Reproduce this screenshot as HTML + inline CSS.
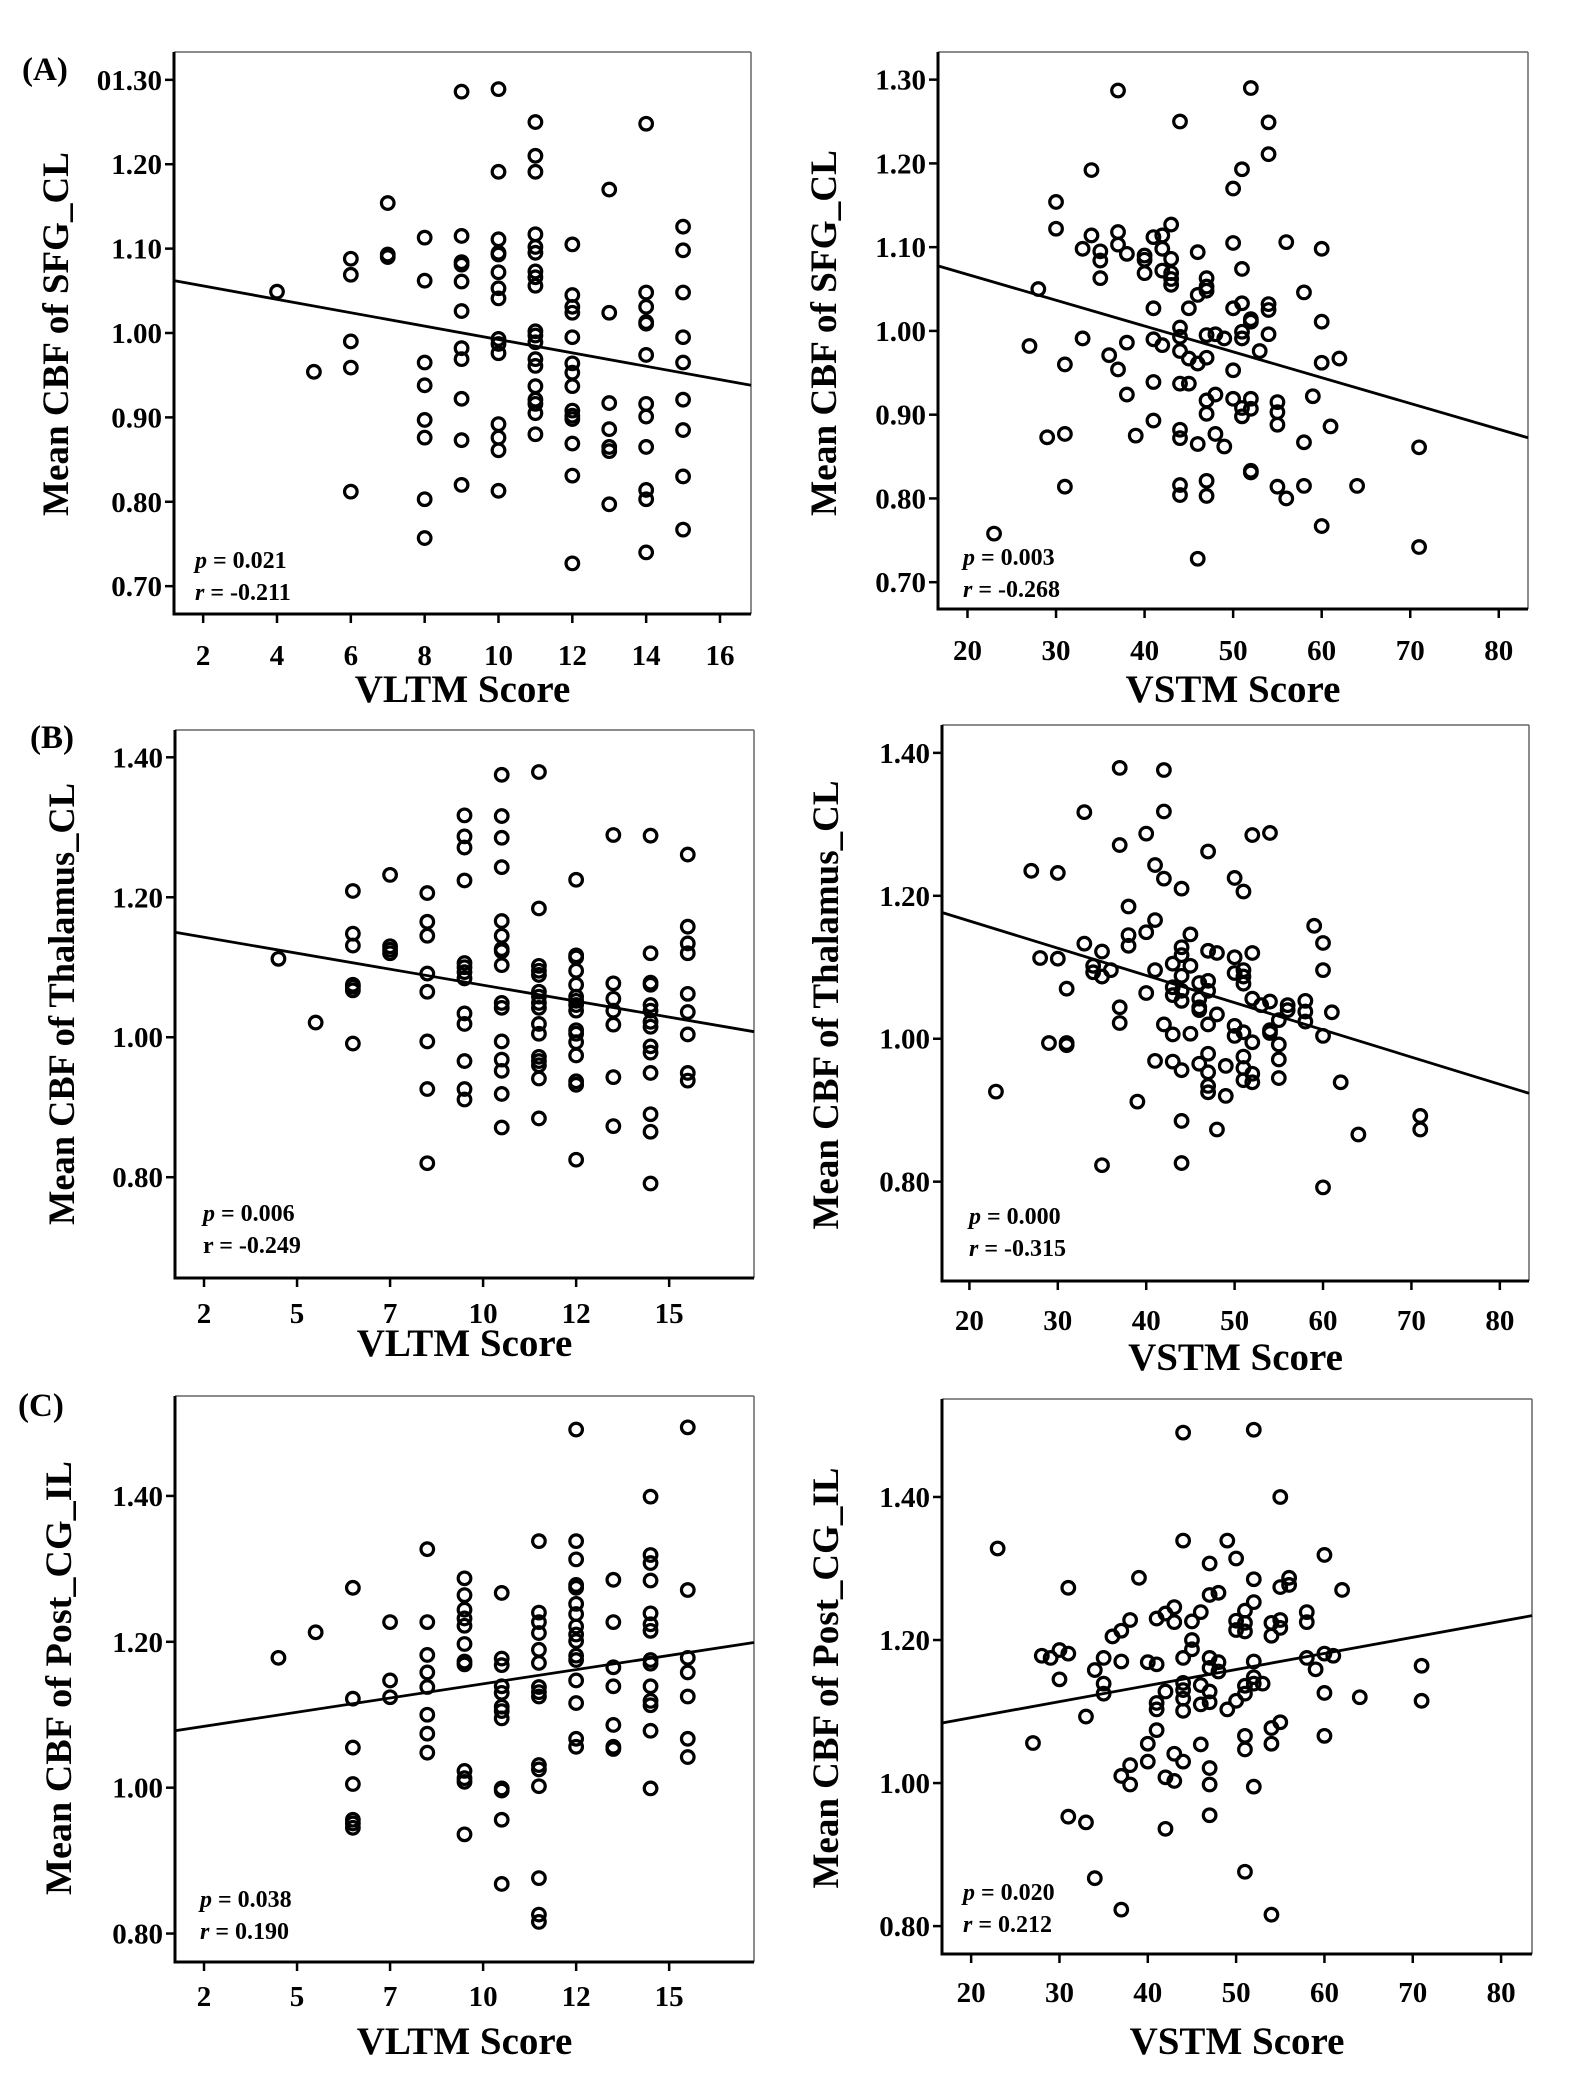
<!DOCTYPE html>
<html><head><meta charset="utf-8"><style>
html,body{margin:0;padding:0;background:#fff;}
svg{display:block;}
text{font-family:"Liberation Serif",serif;font-weight:bold;fill:#000;}
</style></head><body>
<svg id="fig" width="1575" height="2082" viewBox="0 0 1575 2082" xmlns="http://www.w3.org/2000/svg">
<rect x="0" y="0" width="1575" height="2082" fill="#fff"/>
<text x="22" y="80" font-size="33">(A)</text>
<text x="30" y="748" font-size="33">(B)</text>
<text x="18" y="1416" font-size="33">(C)</text>
</svg>
<script>
// ---- Data ----
const vltmTicksA = [2,4,6,8,10,12,14,16];
const vltmTickLabelsA = ["2","4","6","8","10","12","14","16"];
const vltmTicksBC = [2.5,5,7.5,10,12.5,15];
const vltmTickLabelsBC = ["2","5","7","10","12","15"];
const vstmTicks = [20,30,40,50,60,70,80];
const vstmTickLabels = ["20","30","40","50","60","70","80"];
const yTicksA = [0.7,0.8,0.9,1.0,1.1,1.2,1.3];
const yTickLabelsA = ["0.70","0.80","0.90","1.00","1.10","1.20","01.30"];
const yTickLabelsA2 = ["0.70","0.80","0.90","1.00","1.10","1.20","1.30"];
const yTicksBC = [0.8,1.0,1.2,1.4];
const yTickLabelsBC = ["0.80","1.00","1.20","1.40"];

const sfgVltmX = [4,5,6,7,8,9,10,11,12,13,14,15];
const sfgVltmY = [
 [1.049],[0.954],
 [1.088,1.069,0.990,0.959,0.812],
 [1.154,1.093,1.090],
 [1.113,1.062,0.965,0.938,0.897,0.876,0.803,0.757],
 [1.286,1.115,1.084,1.081,1.061,1.026,0.982,0.969,0.922,0.873,0.820],
 [1.289,1.191,1.111,1.095,1.093,1.072,1.053,1.041,0.993,0.987,0.976,0.892,0.876,0.861,0.813],
 [1.250,1.210,1.191,1.117,1.102,1.095,1.073,1.066,1.056,1.002,0.997,0.989,0.969,0.961,0.937,0.921,0.916,0.905,0.880],
 [1.105,1.045,1.031,1.024,0.995,0.964,0.953,0.937,0.908,0.902,0.898,0.869,0.831,0.727],
 [1.170,1.024,0.917,0.886,0.865,0.860,0.797],
 [1.248,1.048,1.031,1.013,1.011,0.974,0.916,0.901,0.865,0.814,0.803,0.740],
 [1.126,1.098,1.048,0.995,0.965,0.921,0.885,0.830,0.767]
];
const sfgVltmFit = [1.0716,-0.00793];

const sfgVstmPoints = [[23,0.758],[27,0.982],[28,1.050],[29,0.873],[30,1.154],[30,1.122],[31,0.960],[31,0.877],[31,0.814],[33,1.098],[33,0.991],[34,1.192],[34,1.114],[35,1.095],[35,1.084],[35,1.063],[36,0.971],[37,1.287],[37,1.118],[37,1.103],[37,0.954],[38,1.092],[38,0.986],[38,0.924],[39,0.875],[40,1.090],[40,1.085],[40,1.069],[41,1.112],[41,1.027],[41,0.990],[41,0.939],[41,0.893],[42,1.114],[42,1.098],[42,1.072],[42,0.983],[43,1.127],[43,1.086],[43,1.069],[43,1.062],[43,1.055],[44,1.250],[44,1.004],[44,0.993],[44,0.976],[44,0.937],[44,0.882],[44,0.872],[44,0.816],[44,0.804],[45,1.027],[45,0.967],[45,0.937],[46,1.094],[46,1.043],[46,0.961],[46,0.865],[46,0.728],[47,1.063],[47,1.053],[47,1.048],[47,0.995],[47,0.968],[47,0.917],[47,0.901],[47,0.821],[47,0.803],[48,0.996],[48,0.924],[48,0.877],[49,0.991],[49,0.862],[50,1.170],[50,1.105],[50,1.027],[50,0.953],[50,0.919],[51,1.193],[51,1.074],[51,1.033],[51,0.999],[51,0.991],[51,0.908],[51,0.898],[52,1.290],[52,1.014],[52,1.011],[52,0.919],[52,0.907],[52,0.833],[52,0.831],[53,0.976],[54,1.249],[54,1.211],[54,1.032],[54,1.025],[54,0.996],[55,0.915],[55,0.903],[55,0.888],[55,0.814],[56,1.106],[56,0.800],[58,1.046],[58,0.867],[58,0.815],[59,0.922],[60,1.098],[60,1.011],[60,0.962],[60,0.767],[61,0.886],[62,0.967],[64,0.815],[71,0.861],[71,0.742]];
const sfgVstmFit = [1.129,-0.00308];

const thalVltmX = [4.5,5.5,6.5,7.5,8.5,9.5,10.5,11.5,12.5,13.5,14.5,15.5];
const thalVltmY = [
 [1.112],[1.021],
 [1.209,1.148,1.131,1.075,1.072,1.067,0.991],
 [1.232,1.130,1.125,1.120],
 [1.206,1.165,1.145,1.091,1.065,0.994,0.926,0.820],
 [1.317,1.287,1.271,1.224,1.106,1.100,1.093,1.084,1.034,1.019,0.966,0.926,0.911],
 [1.375,1.316,1.285,1.243,1.166,1.145,1.126,1.123,1.103,1.049,1.042,0.994,0.968,0.952,0.919,0.871],
 [1.379,1.184,1.102,1.095,1.089,1.065,1.058,1.049,1.042,1.019,1.005,0.972,0.966,0.960,0.941,0.884],
 [1.225,1.117,1.114,1.095,1.075,1.058,1.052,1.046,1.038,1.010,1.005,0.993,0.974,0.937,0.932,0.825],
 [1.289,1.077,1.055,1.038,1.018,0.943,0.873],
 [1.288,1.120,1.078,1.075,1.046,1.038,1.022,1.015,0.987,0.978,0.949,0.890,0.865,0.791],
 [1.261,1.158,1.134,1.120,1.062,1.036,1.004,0.949,0.938]
];
const thalVltmFit = [1.1657,-0.00913];

const thalVstmPoints = [[23,0.926],[27,1.235],[28,1.113],[29,0.994],[30,1.232],[30,1.112],[31,1.070],[31,0.994],[31,0.991],[33,1.317],[33,1.133],[34,1.102],[34,1.093],[35,1.122],[35,1.087],[35,0.823],[36,1.096],[37,1.379],[37,1.271],[37,1.044],[37,1.022],[38,1.185],[38,1.145],[38,1.130],[39,0.912],[40,1.287],[40,1.149],[40,1.064],[41,1.243],[41,1.166],[41,1.096],[41,0.969],[42,1.376],[42,1.318],[42,1.224],[42,1.020],[43,1.105],[43,1.072],[43,1.061],[43,1.006],[43,0.968],[44,1.210],[44,1.128],[44,1.117],[44,1.088],[44,1.067],[44,1.053],[44,0.956],[44,0.885],[44,0.826],[45,1.146],[45,1.102],[45,1.007],[46,1.078],[46,1.056],[46,1.044],[46,1.040],[46,0.965],[47,1.262],[47,1.123],[47,1.081],[47,1.067],[47,1.020],[47,0.979],[47,0.953],[47,0.934],[47,0.925],[48,1.120],[48,1.034],[48,0.873],[49,0.962],[49,0.920],[50,1.225],[50,1.114],[50,1.092],[50,1.018],[50,1.004],[51,1.206],[51,1.096],[51,1.087],[51,1.077],[51,1.009],[51,0.975],[51,0.959],[51,0.942],[52,1.285],[52,1.120],[52,1.056],[52,0.995],[52,0.951],[52,0.939],[53,1.047],[54,1.288],[54,1.052],[54,1.012],[54,1.008],[55,1.026],[55,0.992],[55,0.971],[55,0.945],[56,1.047],[56,1.040],[58,1.053],[58,1.038],[58,1.024],[59,1.158],[60,1.134],[60,1.096],[60,1.004],[60,0.792],[61,1.037],[62,0.939],[64,0.866],[71,0.892],[71,0.873]];
const thalVstmFit = [1.241,-0.00381];

const pcgVltmX = [4.5,5.5,6.5,7.5,8.5,9.5,10.5,11.5,12.5,13.5,14.5,15.5];
const pcgVltmY = [
 [1.178],[1.213],
 [1.274,1.122,1.055,1.005,0.956,0.951,0.945],
 [1.227,1.147,1.124],
 [1.327,1.227,1.182,1.158,1.138,1.100,1.074,1.048],
 [1.287,1.264,1.244,1.232,1.222,1.197,1.173,1.169,1.023,1.013,1.008,0.936],
 [1.267,1.177,1.168,1.139,1.130,1.111,1.105,1.095,0.999,0.996,0.956,0.868],
 [1.338,1.240,1.227,1.212,1.189,1.171,1.138,1.131,1.125,1.031,1.025,1.002,0.876,0.826,0.816],
 [1.491,1.338,1.313,1.278,1.274,1.252,1.238,1.221,1.210,1.201,1.181,1.175,1.147,1.116,1.067,1.056],
 [1.285,1.227,1.165,1.139,1.086,1.056,1.053],
 [1.399,1.319,1.308,1.284,1.239,1.224,1.215,1.175,1.170,1.139,1.119,1.113,1.078,0.999],
 [1.494,1.271,1.178,1.158,1.125,1.067,1.042]
];
const pcgVltmFit = [1.0646,0.00778];

const pcgVstmPoints = [[23,1.328],[27,1.056],[28,1.178],[29,1.175],[30,1.186],[30,1.145],[31,1.273],[31,1.181],[31,0.953],[33,1.093],[33,0.945],[34,1.158],[34,0.867],[35,1.175],[35,1.139],[35,1.125],[36,1.205],[37,1.213],[37,1.170],[37,1.010],[37,0.823],[38,1.228],[38,1.025],[38,0.998],[39,1.287],[40,1.169],[40,1.055],[40,1.030],[41,1.230],[41,1.166],[41,1.112],[41,1.103],[41,1.074],[42,1.237],[42,1.128],[42,1.008],[42,0.936],[43,1.246],[43,1.225],[43,1.041],[43,1.003],[44,1.490],[44,1.339],[44,1.175],[44,1.140],[44,1.130],[44,1.118],[44,1.101],[44,1.030],[45,1.200],[45,1.187],[45,1.226],[46,1.239],[46,1.137],[46,1.110],[46,1.054],[47,1.307],[47,1.263],[47,1.175],[47,1.161],[47,1.128],[47,1.113],[47,1.021],[47,0.998],[47,0.955],[48,1.266],[48,1.169],[48,1.156],[49,1.339],[49,1.103],[50,1.314],[50,1.227],[50,1.214],[50,1.115],[51,1.241],[51,1.224],[51,1.212],[51,1.136],[51,1.125],[51,1.066],[51,1.047],[51,0.876],[52,1.494],[52,1.285],[52,1.253],[52,1.170],[52,1.148],[52,1.139],[52,0.995],[53,1.139],[54,1.224],[54,1.206],[54,1.077],[54,1.055],[54,0.816],[55,1.400],[55,1.274],[55,1.228],[55,1.217],[55,1.085],[56,1.287],[56,1.277],[58,1.239],[58,1.225],[58,1.175],[59,1.159],[60,1.319],[60,1.181],[60,1.126],[60,1.066],[61,1.178],[62,1.270],[64,1.120],[71,1.164],[71,1.115]];
const pcgVstmFit = [1.0465,0.002246];

// ---- Drawing ----
const NS = "http://www.w3.org/2000/svg";
const svg = document.getElementById('fig');
function mk(tag, attrs, parent){
  const e = document.createElementNS(NS, tag);
  for (const k in attrs) e.setAttribute(k, attrs[k]);
  (parent||svg).appendChild(e);
  return e;
}
function expand(xs, ys){
  const out = [];
  xs.forEach((x,i)=>ys[i].forEach(y=>out.push([x,y])));
  return out;
}
function panel(c){
  const g = mk('g', {});
  
  
  const sx = v => c.L + (v - c.x0) / (c.x1 - c.x0) * (c.R - c.L);
  const sy = v => c.B - (v - c.y0) / (c.y1 - c.y0) * (c.B - c.T);
  const top = mk('line', {x1:c.L, y1:c.T, x2:c.R, y2:c.T, stroke:'#666', 'stroke-width':1.5}, g);
  
  
  const right = mk('line', {x1:c.R, y1:c.T, x2:c.R, y2:c.B, stroke:'#666', 'stroke-width':1.5}, g);
  
  
  const ya = mk('line', {x1:c.L, y1:c.T, x2:c.L, y2:c.B+1.5, stroke:'#000', 'stroke-width':3}, g);
  
  
  const xa = mk('line', {x1:c.L-1.5, y1:c.B, x2:c.R, y2:c.B, stroke:'#000', 'stroke-width':3}, g);
  
  
  c.yt.forEach((v,i)=>{
    const y = sy(v);
    const t = mk('line', {x1:c.L-9, y1:y, x2:c.L, y2:y, stroke:'#000', 'stroke-width':2.5}, g);
    
    
    const l = mk('text', {x:c.L-12, y:y+10, 'text-anchor':'end', 'font-size':29}, g);
    
    
    l.textContent = c.ytl[i];
  });
  c.xt.forEach((v,i)=>{
    const x = sx(v);
    const t = mk('line', {x1:x, y1:c.B, x2:x, y2:c.B+9, stroke:'#000', 'stroke-width':2.5}, g);
    
    
    const l = mk('text', {x:x, y:c.xlb, 'text-anchor':'middle', 'font-size':29}, g);
    
    
    l.textContent = c.xtl[i];
  });
  const fit = mk('line', {x1:c.L, y1:sy(c.fit[0]+c.fit[1]*c.x0), x2:c.R, y2:sy(c.fit[0]+c.fit[1]*c.x1), stroke:'#000', 'stroke-width':2.8}, g);
  
  
  c.pts.forEach(p=>{
    const ci = mk('circle', {cx:sx(p[0]), cy:sy(p[1]), r:6.3, fill:'none', stroke:'#000', 'stroke-width':3.2}, g);
    
    
  });
  const xt = mk('text', {x:(c.L+c.R)/2, y:c.xtb, 'text-anchor':'middle', 'font-size':39}, g);
  
  
  xt.textContent = c.xtitle;
  const yt = mk('text', {x:0, y:0, 'text-anchor':'middle', 'font-size':37, transform:'translate('+c.ytx+','+c.yty+') rotate(-90)', textLength:c.ytw, lengthAdjust:'spacingAndGlyphs'}, g);
  
  
  yt.textContent = c.ytitle;
  const pa = mk('text', {x:c.ax, y:c.ay, 'font-size':24}, g);
  
  
  const pi = mk('tspan', {'font-style':'italic'}, pa);
  pi.textContent = 'p';
  const pr = mk('tspan', {}, pa);
  pr.textContent = ' = ' + c.pv;
  const ra = mk('text', {x:c.ax, y:c.ay+32, 'font-size':24}, g);
  
  
  const ri = mk('tspan', {'font-style':c.rItalic?'italic':'normal'}, ra);
  ri.textContent = 'r';
  const rr = mk('tspan', {}, ra);
  rr.textContent = ' = ' + c.rv;
}

panel({name:'panel-a-vltm', L:174,R:751,T:52,B:614, x0:1.21,x1:16.84, y0:0.667,y1:1.333,
  xt:vltmTicksA, xtl:vltmTickLabelsA, yt:yTicksA, ytl:yTickLabelsA, xlb:665, xtb:702,
  xtitle:'VLTM Score', ytitle:'Mean CBF of SFG_CL', ytx:68, yty:334, ytw:364,
  pts:expand(sfgVltmX, sfgVltmY), fit:sfgVltmFit, ax:195, ay:568, pv:'0.021', rv:'-0.211', rItalic:true});
panel({name:'panel-a-vstm', L:938,R:1528,T:52,B:609, x0:16.67,x1:83.3, y0:0.668,y1:1.333,
  xt:vstmTicks, xtl:vstmTickLabels, yt:yTicksA, ytl:yTickLabelsA2, xlb:660, xtb:702,
  xtitle:'VSTM Score', ytitle:'Mean CBF of SFG_CL', ytx:836, yty:333, ytw:366,
  pts:sfgVstmPoints, fit:sfgVstmFit, ax:963, ay:565, pv:'0.003', rv:'-0.268', rItalic:true});
panel({name:'panel-b-vltm', L:175,R:754,T:730,B:1278, x0:1.72,x1:17.28, y0:0.656,y1:1.439,
  xt:vltmTicksBC, xtl:vltmTickLabelsBC, yt:yTicksBC, ytl:yTickLabelsBC, xlb:1323, xtb:1356,
  xtitle:'VLTM Score', ytitle:'Mean CBF of Thalamus_CL', ytx:74, yty:1004, ytw:442,
  pts:expand(thalVltmX, thalVltmY), fit:thalVltmFit, ax:203, ay:1221, pv:'0.006', rv:'-0.249', rItalic:false});
panel({name:'panel-b-vstm', L:942,R:1529,T:725,B:1281, x0:16.9,x1:83.3, y0:0.661,y1:1.439,
  xt:vstmTicks, xtl:vstmTickLabels, yt:yTicksBC, ytl:yTickLabelsBC, xlb:1330, xtb:1370,
  xtitle:'VSTM Score', ytitle:'Mean CBF of Thalamus_CL', ytx:838, yty:1005, ytw:449,
  pts:thalVstmPoints, fit:thalVstmFit, ax:969, ay:1224, pv:'0.000', rv:'-0.315', rItalic:true});
panel({name:'panel-c-vltm', L:175,R:754,T:1396,B:1962, x0:1.72,x1:17.28, y0:0.761,y1:1.537,
  xt:vltmTicksBC, xtl:vltmTickLabelsBC, yt:yTicksBC, ytl:yTickLabelsBC, xlb:2006, xtb:2054,
  xtitle:'VLTM Score', ytitle:'Mean CBF of Post_CG_IL', ytx:71, yty:1678, ytw:434,
  pts:expand(pcgVltmX, pcgVltmY), fit:pcgVltmFit, ax:200, ay:1907, pv:'0.038', rv:'0.190', rItalic:true});
panel({name:'panel-c-vstm', L:942,R:1532,T:1399,B:1954, x0:16.7,x1:83.5, y0:0.761,y1:1.537,
  xt:vstmTicks, xtl:vstmTickLabels, yt:yTicksBC, ytl:yTickLabelsBC, xlb:2002, xtb:2054,
  xtitle:'VSTM Score', ytitle:'Mean CBF of Post_CG_IL', ytx:838, yty:1678, ytw:421,
  pts:pcgVstmPoints, fit:pcgVstmFit, ax:963, ay:1900, pv:'0.020', rv:'0.212', rItalic:true});
</script>
</body></html>
